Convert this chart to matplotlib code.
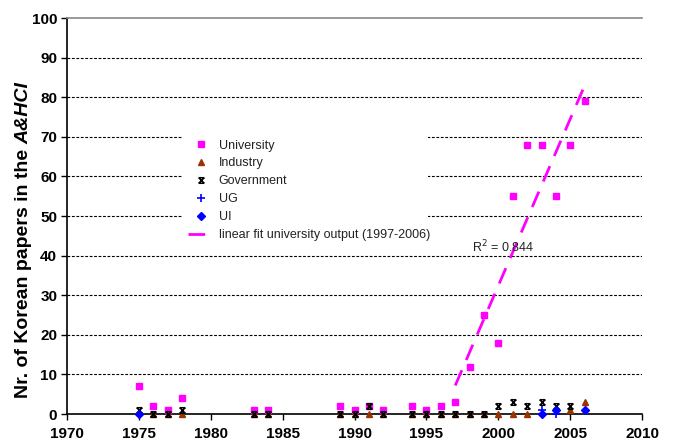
import matplotlib

matplotlib.use("Agg")
import matplotlib.pyplot as plt
import numpy as np
from matplotlib.patches import Rectangle
from matplotlib.path import Path

plt.rcParams["font.family"] = ["Liberation Sans", "DejaVu Sans"]

# data
univ_years = [1975, 1976, 1977, 1978, 1983, 1984, 1989, 1990, 1991, 1992, 1994, 1995, 1996,
              1997, 1998, 1999, 2000, 2001, 2002, 2003, 2004, 2005, 2006]
univ_vals = [7, 2, 1, 4, 1, 1, 2, 1, 2, 1, 2, 1, 2,
             3, 12, 25, 18, 55, 68, 68, 55, 68, 79]

ind_years = [1976, 1977, 1978, 1983, 1984, 1989, 1990, 1991, 1992, 1994, 1995, 1996, 1997,
             1998, 1999, 2000, 2001, 2002, 2005, 2006]
ind_vals = [0, 0, 0, 0, 0, 0, 0, 0, 0, 0, 0, 0, 0,
            0, 0, 0, 0, 0, 1, 3]

gov_years = [1975, 1976, 1977, 1978, 1983, 1984, 1989, 1990, 1991, 1992, 1994, 1995, 1996,
             1997, 1998, 1999, 2000, 2001, 2002, 2003, 2004, 2005]
gov_vals = [1, 0, 0, 1, 0, 0, 0, 0, 2, 0, 0, 0, 0,
            0, 0, 0, 2, 3, 2, 3, 2, 2]

ug_years = [2003, 2004]
ug_vals = [1, 0]

ui_years = [1975, 2003, 2004, 2006]
ui_vals = [0, 0, 1, 1]

fit_start, fit_end = 1997, 2006

# excel-style "x with bars" marker for Government
gov_marker = Path(
    [(-1, 1), (1, 1), (-1, -1), (1, -1), (-1, 1), (1, -1), (-1, -1), (1, 1)],
    [Path.MOVETO, Path.LINETO, Path.MOVETO, Path.LINETO,
     Path.MOVETO, Path.LINETO, Path.MOVETO, Path.LINETO],
)

fig = plt.figure(figsize=(6.76, 4.41), dpi=100)
ax = fig.add_axes([0.099, 0.061, 0.851, 0.898])

ax.plot(univ_years, univ_vals, ls="none", marker="s", ms=5, color="#FF00FF", label="University",
        clip_on=False, zorder=3)
ax.plot(ind_years, ind_vals, ls="none", marker="^", ms=5, color="#993300", label="Industry",
        clip_on=False, zorder=3)
ax.plot(gov_years, gov_vals, ls="none", marker=gov_marker, ms=4, mew=1.1, color="black",
        label="Government", clip_on=False, zorder=4)
ax.plot(ug_years, ug_vals, ls="none", marker="+", ms=6, mew=1.2, color="#0000FF", label="UG",
        clip_on=False, zorder=5)
ax.plot(ui_years, ui_vals, ls="none", marker="D", ms=4.5, color="#0000FF", label="UI",
        clip_on=False, zorder=5)

# linear fit on university output 1997-2006
uy = np.array(univ_years)
uv = np.array(univ_vals)
sel = (uy >= fit_start) & (uy <= fit_end)
slope, icept = np.polyfit(uy[sel], uv[sel], 1)
pred = slope * uy[sel] + icept
r2 = 1 - np.sum((uv[sel] - pred) ** 2) / np.sum((uv[sel] - uv[sel].mean()) ** 2)
fx = np.array([fit_start, fit_end])
ax.plot(fx, slope * fx + icept, color="#FF00FF", lw=2, dashes=(6, 4),
        label="linear fit university output (1997-2006)")
ax.text(1998.2, 42.3, f"R$^2$ = {r2:.3f}", fontsize=9, color="#222222", va="center")

ax.set_xlim(1970, 2010)
ax.set_ylim(0, 100)
ax.set_xticks(range(1970, 2011, 5))
ax.set_yticks(range(0, 101, 10))
for v in range(10, 100, 10):
    ax.axhline(v, color="black", lw=0.8, ls=(0, (2.5, 1.5)), zorder=0)

ax.spines["right"].set_visible(False)
ax.spines["top"].set_color("#888888")
ax.spines["top"].set_linewidth(1.2)
ax.spines["left"].set_linewidth(1.2)
ax.spines["bottom"].set_linewidth(1.2)
ax.tick_params(direction="out", length=4, width=1, labelsize=11, pad=3)
ax.tick_params(axis="x", pad=5)
for lab in ax.get_xticklabels() + ax.get_yticklabels():
    lab.set_fontweight("bold")

# y label: bold part + bold italic part, stacked along the rotated baseline
ylab_x = 0.035
t1 = fig.text(ylab_x, 0.097, "Nr. of Korean papers in the ", rotation=90, fontsize=14,
              fontweight="bold", ha="center", va="bottom")
fig.canvas.draw()
bb = t1.get_window_extent().transformed(fig.transFigure.inverted())
fig.text(ylab_x, bb.y1, "A&HCI", rotation=90, fontsize=14, fontweight="bold",
         fontstyle="italic", ha="center", va="bottom")

# white block behind the legend hides the gridlines there (no border)
ax.add_patch(Rectangle((183 / 676, 1 - 245 / 441), 245 / 676, 114 / 441,
                       transform=fig.transFigure, facecolor="white", edgecolor="none",
                       zorder=1))
leg = ax.legend(loc="upper left", bbox_to_anchor=(0.27, 0.695), bbox_transform=fig.transFigure,
                frameon=False, fontsize=9, labelspacing=0.47, handlelength=2.2,
                handletextpad=0.3, borderaxespad=0)
leg.set_zorder(6)
for t in leg.get_texts():
    t.set_color("#222222")

fig.savefig("out.png", dpi=100)
